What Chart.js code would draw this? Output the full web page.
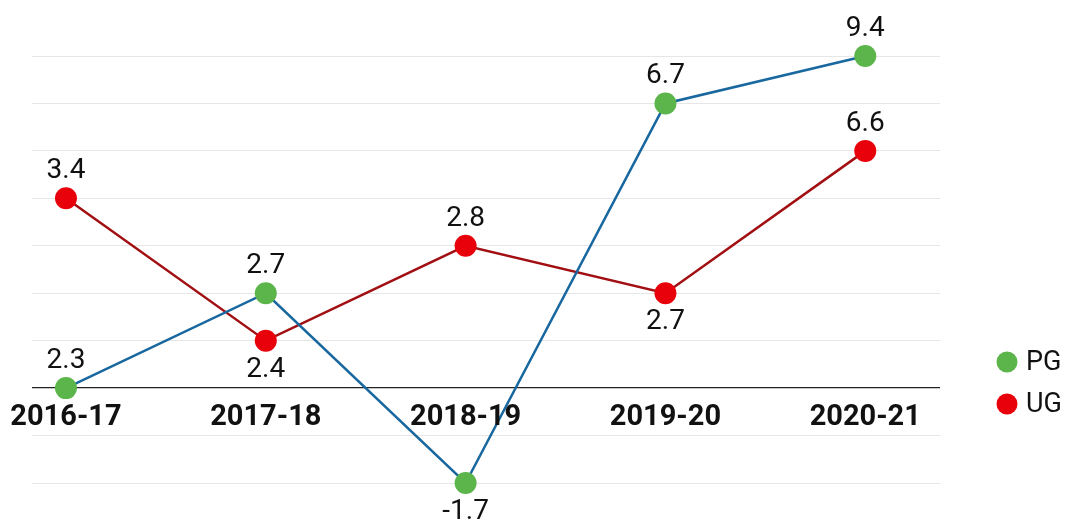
<!DOCTYPE html>
<html>
<head>
<meta charset="utf-8">
<script src="https://cdn.jsdelivr.net/npm/chart.js@4/dist/chart.umd.min.js"></script>
<style>
  html, body { margin: 0; padding: 0; background: #ffffff; }
  #wrap { width: 1075px; height: 528px; }
</style>
</head>
<body>
<div id="wrap"><canvas id="c" width="1075" height="528"></canvas></div>
<script>
// ---- data ----
const categories = ['2016-17', '2017-18', '2018-19', '2019-20', '2020-21'];
const seriesNames = ['PG', 'UG'];
const pgValues = [2.3, 2.7, -1.7, 6.7, 9.4];
const ugValues = [3.4, 2.4, 2.8, 2.7, 6.6];
// ordinal y-axis levels (top to bottom), as in the reference
const yTickLabels = [9.4, 6.7, 6.6, 3.4, 2.8, 2.7, 2.4, 2.3, 0, -1.7];
const baselineValue = 2.3;

// ---- styles ----
const pgPointColor = '#5bb54a';
const pgLineColor = '#18689f';
const ugPointColor = '#e8000b';
const ugLineColor = '#a20f12';
const labelBelow = { PG: [false, false, true, false, false], UG: [false, true, false, true, false] };
const FONT = 'Roboto, "Liberation Sans", sans-serif';

function level(v) { return yTickLabels.length - 1 - yTickLabels.indexOf(v); }
const baseLevel = level(baselineValue);

function toPoints(vals) { return vals.map((v, i) => ({ x: i, y: level(v), v: v })); }

const overlayPlugin = {
  id: 'overlay',
  afterDatasetsDraw(chart) {
    const ctx = chart.ctx;
    const xs = chart.scales.x, ys = chart.scales.y;
    ctx.save();
    // value labels
    ctx.font = '28px ' + FONT;
    ctx.fillStyle = '#111';
    ctx.textAlign = 'center';
    ctx.textBaseline = 'middle';
    chart.data.datasets.forEach((ds) => {
      ds.data.forEach((p, i) => {
        const px = xs.getPixelForValue(p.x);
        const py = ys.getPixelForValue(p.y);
        const below = labelBelow[ds.label][i];
        ctx.fillText(String(p.v), px, py + (below ? 29 : -27));
      });
    });
    // category labels under the baseline
    ctx.font = 'bold 29px ' + FONT;
    ctx.fillStyle = '#111';
    const by = ys.getPixelForValue(baseLevel);
    categories.forEach((c, i) => {
      ctx.fillText(c, xs.getPixelForValue(i), by + 30);
    });
    // legend
    const legendItems = [
      { name: seriesNames[0], color: pgPointColor },
      { name: seriesNames[1], color: ugPointColor }
    ];
    ctx.textAlign = 'left';
    ctx.font = '27px ' + FONT;
    legendItems.forEach((it, k) => {
      const cy = 362 + k * 42;
      ctx.beginPath();
      ctx.arc(1007, cy, 10.5, 0, Math.PI * 2);
      ctx.fillStyle = it.color;
      ctx.fill();
      ctx.fillStyle = '#111';
      ctx.fillText(it.name, 1026, cy + 1);
    });
    ctx.restore();
  }
};

function build() {
  new Chart(document.getElementById('c'), {
    type: 'line',
    data: {
      datasets: [
        {
          label: seriesNames[0],
          data: toPoints(pgValues),
          borderColor: pgLineColor,
          borderWidth: 2.5,
          pointBackgroundColor: pgPointColor,
          pointBorderColor: pgPointColor,
          pointBorderWidth: 0,
          pointRadius: 11,
          tension: 0,
          clip: false
        },
        {
          label: seriesNames[1],
          data: toPoints(ugValues),
          borderColor: ugLineColor,
          borderWidth: 2.5,
          pointBackgroundColor: ugPointColor,
          pointBorderColor: ugPointColor,
          pointBorderWidth: 0,
          pointRadius: 11,
          tension: 0,
          clip: false
        }
      ]
    },
    options: {
      responsive: false,
      animation: false,
      layout: { padding: { left: 32, right: 135, top: 56, bottom: 45 } },
      plugins: { legend: { display: false }, tooltip: { enabled: false } },
      scales: {
        x: {
          type: 'linear',
          display: false,
          min: -0.170,
          max: 4.374
        },
        y: {
          type: 'linear',
          min: 0,
          max: yTickLabels.length - 1,
          ticks: { display: false, stepSize: 1 },
          border: { display: false },
          grid: {
            drawTicks: false,
            color: (c) => (c.tick && c.tick.value === baseLevel ? '#222222' : '#e6e6e6'),
            lineWidth: (c) => (c.tick && c.tick.value === baseLevel ? 1.3 : 1)
          }
        }
      }
    },
    plugins: [overlayPlugin]
  });
}

if (document.fonts && document.fonts.load) {
  Promise.all([document.fonts.load('28px Roboto'), document.fonts.load('bold 29px Roboto')])
    .then(build, build);
} else {
  build();
}
</script>
</body>
</html>
